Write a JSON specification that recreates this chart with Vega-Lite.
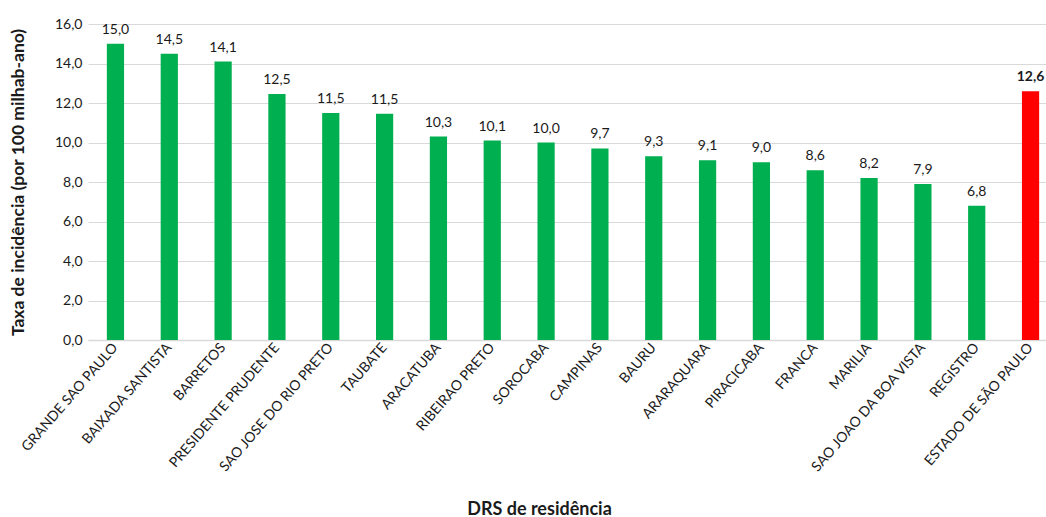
{
  "$schema": "https://vega.github.io/schema/vega-lite/v6.json",
  "autosize": "none",
  "width": 970,
  "height": 316,
  "padding": {"left": 88, "top": 24, "right": 0, "bottom": 177},
  "config": {
    "locale": {"number": {"decimal": ",", "thousands": ".", "grouping": [3], "currency": ["R$", ""]}},
    "view": {"stroke": null},
    "font": "Lato"
  },
  "data": {"values": [
    {"drs": "GRANDE SAO PAULO", "taxa": 15.0, "tipo": "drs"},
    {"drs": "BAIXADA SANTISTA", "taxa": 14.5, "tipo": "drs"},
    {"drs": "BARRETOS", "taxa": 14.1, "tipo": "drs"},
    {"drs": "PRESIDENTE PRUDENTE", "taxa": 12.46, "tipo": "drs"},
    {"drs": "SAO JOSE DO RIO PRETO", "taxa": 11.5, "tipo": "drs"},
    {"drs": "TAUBATE", "taxa": 11.46, "tipo": "drs"},
    {"drs": "ARACATUBA", "taxa": 10.3, "tipo": "drs"},
    {"drs": "RIBEIRAO PRETO", "taxa": 10.1, "tipo": "drs"},
    {"drs": "SOROCABA", "taxa": 10.0, "tipo": "drs"},
    {"drs": "CAMPINAS", "taxa": 9.7, "tipo": "drs"},
    {"drs": "BAURU", "taxa": 9.3, "tipo": "drs"},
    {"drs": "ARARAQUARA", "taxa": 9.1, "tipo": "drs"},
    {"drs": "PIRACICABA", "taxa": 9.0, "tipo": "drs"},
    {"drs": "FRANCA", "taxa": 8.6, "tipo": "drs"},
    {"drs": "MARILIA", "taxa": 8.2, "tipo": "drs"},
    {"drs": "SAO JOAO DA BOA VISTA", "taxa": 7.9, "tipo": "drs"},
    {"drs": "REGISTRO", "taxa": 6.8, "tipo": "drs"},
    {"drs": "ESTADO DE SÃO PAULO", "taxa": 12.6, "tipo": "estado"}
  ]},
  "encoding": {
    "x": {
      "field": "drs", "type": "nominal", "sort": null,
      "scale": {"paddingInner": 0.68, "paddingOuter": 0.35},
      "axis": {
        "title": "DRS de residência",
        "titleFont": "Lato", "titleFontSize": 18, "titleFontWeight": "bold", "titleColor": "#1a1a1a",
        "titleBaseline": "middle", "titleY": 169, "titleX": 451, "titleAnchor": "middle",
        "labelAngle": -49, "labelFontSize": 14, "labelColor": "#1a1a1a", "labelFont": "Lato",
        "labelPadding": 5,
        "ticks": false, "domainColor": "#d9d9d9", "domainWidth": 1.5
      }
    },
    "y": {
      "field": "taxa", "type": "quantitative",
      "scale": {"domain": [0, 16]},
      "axis": {
        "title": "Taxa de incidência (por 100 milhab-ano)",
        "titleFont": "Lato", "titleFontSize": 17.5, "titleFontWeight": "bold", "titleColor": "#1a1a1a",
        "titleX": -70, "titleBaseline": "middle",
        "values": [0, 2, 4, 6, 8, 10, 12, 14, 16],
        "format": ".1f",
        "labelFontSize": 14, "labelColor": "#1a1a1a", "labelFont": "Lato", "labelPadding": 6,
        "ticks": false, "domain": false,
        "grid": true, "gridColor": "#d9d9d9", "gridWidth": 1.2
      }
    }
  },
  "layer": [
    {
      "mark": {"type": "bar"},
      "encoding": {
        "color": {"field": "tipo", "type": "nominal",
          "scale": {"domain": ["drs", "estado"], "range": ["#00B050", "#FF0000"]},
          "legend": null}
      }
    },
    {
      "transform": [{"filter": "datum.tipo === 'drs'"}],
      "mark": {"type": "text", "baseline": "bottom", "dy": -7, "fontSize": 14, "font": "Lato", "color": "#1a1a1a"},
      "encoding": {"text": {"field": "taxa", "type": "quantitative", "format": ".1f"}}
    },
    {
      "transform": [{"filter": "datum.tipo === 'estado'"}],
      "mark": {"type": "text", "baseline": "bottom", "dy": -7, "fontSize": 14, "font": "Lato", "fontWeight": "bold", "color": "#1a1a1a"},
      "encoding": {"text": {"field": "taxa", "type": "quantitative", "format": ".1f"}}
    }
  ]
}
